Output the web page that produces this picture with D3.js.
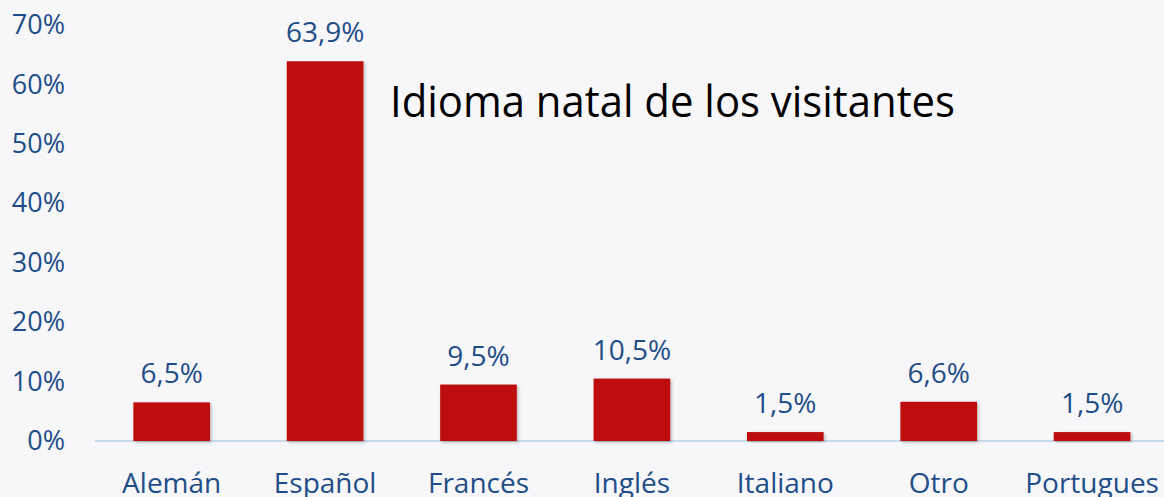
<!DOCTYPE html>
<html><head><meta charset="utf-8">
<script src="https://cdn.jsdelivr.net/npm/d3@7"></script>
<style>html,body{margin:0;padding:0;background:#f7f7fa;}svg{display:block;}</style>
</head><body>
<svg id="c" width="1164" height="497"></svg>
<script>
const categories = ["Alemán","Español","Francés","Inglés","Italiano","Otro","Portugues"];
const values = [6.5, 63.9, 9.5, 10.5, 1.5, 6.6, 1.5];
const valueLabels = ["6,5%","63,9%","9,5%","10,5%","1,5%","6,6%","1,5%"];
const yTicks = [0,10,20,30,40,50,60,70];
const title = "Idioma natal de los visitantes";

const svg = d3.select("#c");
const font = "'Open Sans', sans-serif";
const blue = "#1f4e87";
const x = d3.scaleBand().domain(categories).range([95, 1168.8]).paddingInner(0.5).paddingOuter(0.25);
const y = d3.scaleLinear().domain([0,70]).range([441, 25]);

const defs = svg.append("defs");
const f = defs.append("filter").attr("id","sh").attr("x","-10%").attr("y","-10%").attr("width","130%").attr("height","130%");
f.append("feDropShadow").attr("dx",1.5).attr("dy",1.5).attr("stdDeviation",1.5).attr("flood-color","#000").attr("flood-opacity",0.25);

// y axis labels
const ya = svg.append("g").attr("transform","translate(65,0)")
  .call(d3.axisLeft(y).tickValues(yTicks).tickFormat(d=>d+"%").tickSize(0).tickPadding(0));
ya.select(".domain").remove();
ya.selectAll("text").attr("font-family",font).attr("font-size",27).attr("fill",blue);

// baseline
const xa = svg.append("g").attr("transform",`translate(0,${y(0)})`)
  .call(d3.axisBottom(x).tickSize(0).tickPadding(0));
xa.select(".domain").attr("d","M95,0H1164").attr("stroke","#c9d9ec").attr("stroke-width",2);
xa.selectAll("text").attr("font-family",font).attr("font-size",28).attr("fill",blue)
  .attr("dy",null).attr("y",52);

svg.append("g").selectAll("rect").data(values).join("rect")
  .attr("x",(d,i)=>x(categories[i])).attr("width",x.bandwidth())
  .attr("y",d=>y(d)).attr("height",d=>y(0)-y(d))
  .attr("fill","#be1010").attr("filter","url(#sh)");

svg.append("g").selectAll("text").data(values).join("text")
  .attr("x",(d,i)=>x(categories[i])+x.bandwidth()/2)
  .attr("y",d=>y(d)-19)
  .attr("text-anchor","middle").attr("font-family",font).attr("font-size",28).attr("fill",blue)
  .text((d,i)=>valueLabels[i]);

svg.append("text").attr("x",390).attr("y",117).attr("font-family",font).attr("font-size",44).attr("fill","#000")
  .attr("textLength",565).attr("lengthAdjust","spacingAndGlyphs")
  .text(title);
</script>
</body></html>
